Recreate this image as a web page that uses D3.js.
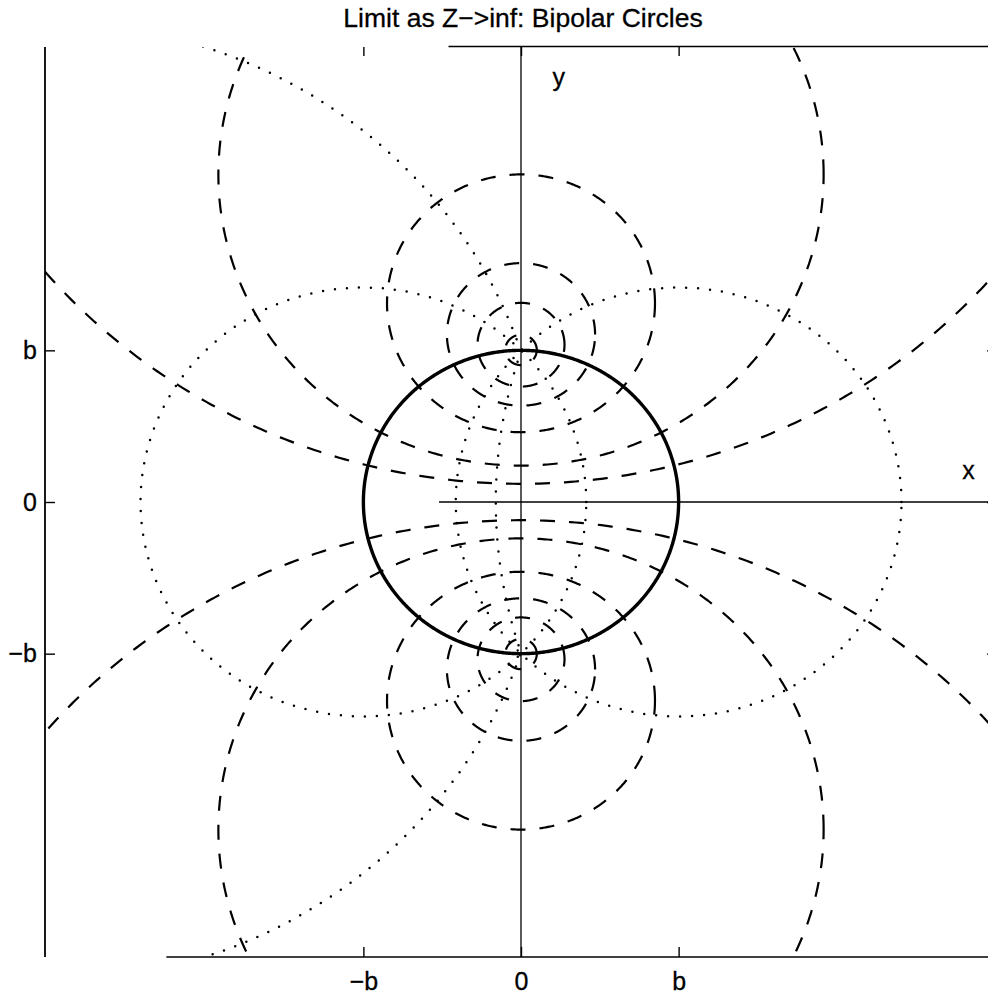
<!DOCTYPE html>
<html>
<head>
<meta charset="utf-8">
<script src="https://cdn.jsdelivr.net/npm/d3@7"></script>
<style>
  body { margin: 0; background: #fff; }
  svg { display: block; font-family: "Liberation Sans", Arial, Helvetica, sans-serif; }
</style>
</head>
<body>
<svg id="chart" width="988" height="995"></svg>
<script>
// lengths in units of b (the poles sit at (0, b) and (0, -b))
const TITLE = "Limit as Z\u2212>inf: Bipolar Circles";
const X_DOMAIN = [-3.02, 3.02];
const Y_DOMAIN = [-3, 3];
const TICK_VALUES = [-1, 0, 1];
const TICK_LABELS = ["\u2212b", "0", "b"];

// solid circle through both poles
const SOLID_R = 1;

// dotted circles through both poles, centres on the x axis
const DOT_CX = [-3, -1, 1, 3];
const DOT_R = [3.16, 1.414, 1.414, 3.16];
const DOT_FULL = [false, true, true, false]; // false -> only the arc away from the y axis

// dashed circles around each pole, centres on the y axis (mirrored below)
const DASH_CY = [4.08, 2.16, 1.31, 1.105, 1.037, 1.0025];
const DASH_R = [3.96, 1.92, 0.85, 0.47, 0.276, 0.10];

const SVG = d3.select("#chart");
const LEFT = 45, RIGHT = 997, TOP = 47, BOTTOM = 957;

const x = d3.scaleLinear().domain(X_DOMAIN).range([LEFT, RIGHT]);
const y = d3.scaleLinear().domain(Y_DOMAIN).range([BOTTOM, TOP]);

SVG.append("defs").append("clipPath").attr("id", "plot-clip")
    .append("rect")
    .attr("x", LEFT).attr("y", TOP)
    .attr("width", RIGHT - LEFT).attr("height", BOTTOM - TOP);

// title
SVG.append("text")
    .attr("x", 523)
    .attr("y", 27)
    .attr("text-anchor", "middle")
    .attr("font-size", 26.5)
    .attr("stroke", "#000")
    .attr("stroke-width", 0.3)
    .text(TITLE);

const plot = SVG.append("g").attr("clip-path", "url(#plot-clip)");

// axis lines (x = 0 and y = 0) and the box edges as they show in the print
const frame = SVG.append("g").attr("stroke", "#000").attr("fill", "none");
frame.append("line")
    .attr("x1", LEFT).attr("x2", LEFT)
    .attr("y1", TOP).attr("y2", BOTTOM)
    .attr("stroke-width", 1.8);
frame.append("line")
    .attr("x1", x(-0.46)).attr("x2", RIGHT)
    .attr("y1", TOP - 0.5).attr("y2", TOP - 0.5)
    .attr("stroke-width", 1.4);
frame.append("line")
    .attr("x1", x(-2.25)).attr("x2", RIGHT)
    .attr("y1", BOTTOM).attr("y2", BOTTOM)
    .attr("stroke-width", 1.4);
frame.append("line")
    .attr("x1", x(0)).attr("x2", x(0))
    .attr("y1", TOP).attr("y2", BOTTOM)
    .attr("stroke-width", 1.3);
frame.append("line")
    .attr("x1", x(-0.52)).attr("x2", RIGHT)
    .attr("y1", y(0)).attr("y2", y(0))
    .attr("stroke-width", 1.3);

// ticks, MATLAB style (inward)
function styleAxis(g, withLabels) {
    g.select(".domain").remove();
    g.selectAll(".tick line").attr("stroke", "#000").attr("stroke-width", 1.4);
    g.selectAll("text")
        .attr("font-size", 25)
        .attr("font-family", "'Liberation Sans', Arial, sans-serif")
        .attr("fill", "#000")
        .attr("stroke", "#000")
        .attr("stroke-width", 0.3);
    if (!withLabels) g.selectAll("text").remove();
}
const fmt = (d, i) => TICK_LABELS[i];

SVG.append("g")
    .attr("transform", `translate(0,${BOTTOM})`)
    .call(d3.axisBottom(x).tickValues(TICK_VALUES).tickFormat(fmt).tickSize(-10).tickPadding(15))
    .call(g => styleAxis(g, true));
SVG.append("g")
    .attr("transform", `translate(0,${TOP})`)
    .call(d3.axisTop(x).tickValues(TICK_VALUES).tickSize(-9))
    .call(g => styleAxis(g, false));
SVG.append("g")
    .attr("transform", `translate(${LEFT},0)`)
    .call(d3.axisLeft(y).tickValues(TICK_VALUES).tickFormat(fmt).tickSize(-10).tickPadding(8))
    .call(g => styleAxis(g, true));
SVG.append("g")
    .attr("transform", `translate(${RIGHT},0)`)
    .call(d3.axisRight(y).tickValues(TICK_VALUES).tickSize(-10))
    .call(g => styleAxis(g, false));

// axis names
SVG.append("text")
    .attr("x", x(0.2)).attr("y", y(2.74))
    .attr("font-size", 25)
    .attr("stroke", "#000")
    .attr("stroke-width", 0.3)
    .text("y");
SVG.append("text")
    .attr("x", x(2.8)).attr("y", y(0.15))
    .attr("font-size", 25)
    .attr("stroke", "#000")
    .attr("stroke-width", 0.3)
    .text("x");

// helper: circle (or part of it) in data units -> path
const line = d3.line().x(p => x(p[0])).y(p => y(p[1]));
function arcPoints(cx, cy, r, a0, a1) {
    const n = Math.max(60, Math.round(Math.abs(a1 - a0) * 120));
    return d3.range(n + 1).map(i => {
        const a = a0 + (a1 - a0) * i / n;
        return [cx + r * Math.cos(a), cy + r * Math.sin(a)];
    });
}

// dashed circles
const dashed = [];
DASH_CY.forEach((cy, i) => {
    dashed.push({ cy: cy, r: DASH_R[i] });
    dashed.push({ cy: -cy, r: DASH_R[i] });
});
plot.selectAll("path.dashed")
    .data(dashed)
    .join("path")
    .attr("class", "dashed")
    .attr("d", d => line(arcPoints(0, d.cy, d.r, 0, 2 * Math.PI)))
    .attr("fill", "none")
    .attr("stroke", "#000")
    .attr("stroke-width", 2.2)
    .attr("stroke-dasharray", "15 14");

// dotted circles; the "outer" ones only run from pole to pole on the far side
plot.selectAll("path.dotted")
    .data(DOT_CX.map((c, i) => ({ c: c, r: DOT_R[i], full: DOT_FULL[i] })))
    .join("path")
    .attr("class", "dotted")
    .attr("d", d => {
        if (d.full) return line(arcPoints(d.c, 0, d.r, 0, 2 * Math.PI));
        const a = Math.atan2(1, -d.c);          // angle of the upper pole seen from the centre
        return d.c < 0
            ? line(arcPoints(d.c, 0, d.r, a, 2 * Math.PI - a))
            : line(arcPoints(d.c, 0, d.r, -a, a - 2 * Math.PI).reverse());
    })
    .attr("fill", "none")
    .attr("stroke", "#000")
    .attr("stroke-width", 2.5)
    .attr("stroke-linecap", "round")
    .attr("stroke-dasharray", "0 12");

// solid circle
plot.append("path")
    .attr("d", line(arcPoints(0, 0, SOLID_R, 0, 2 * Math.PI)))
    .attr("fill", "none")
    .attr("stroke", "#000")
    .attr("stroke-width", 3.4);
</script>
</body>
</html>
